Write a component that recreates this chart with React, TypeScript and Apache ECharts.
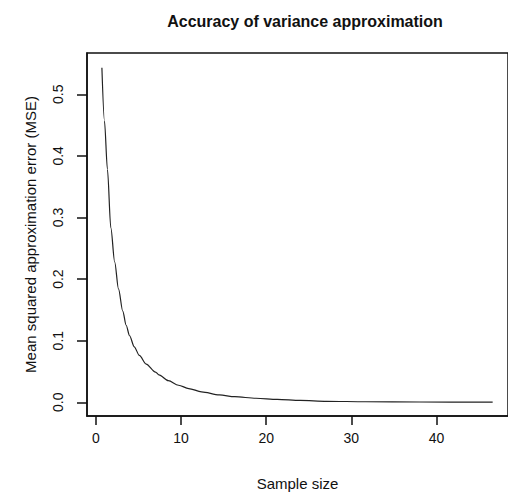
import React, { useEffect, useRef } from "react";
import * as echarts from "echarts";

const title = "Accuracy of variance approximation";
const xName = "Sample size";
const yName = "Mean squared approximation error (MSE)";
const xTicks = [0, 10, 20, 30, 40];
const yTicks = [0, 0.1, 0.2, 0.3, 0.4, 0.5];
const sampleSize = [0.7, 1.0, 1.35, 1.75, 2.2, 2.65, 3.15, 3.55, 3.95, 4.5, 5.1, 5.9, 7.0, 7.4, 8.5, 9.7, 10.9, 12.4, 14.5, 16.3, 18.8, 21.3, 24, 27.1, 31.7, 38, 46.6];
const mse = [0.543, 0.457, 0.378, 0.283, 0.228, 0.184, 0.148, 0.125, 0.108, 0.09, 0.076, 0.062, 0.049, 0.0445, 0.035, 0.0276, 0.0223, 0.017, 0.012, 0.009, 0.0065, 0.0048, 0.003, 0.0016, 0.0008, 0.0004, 0.0002];

const FONT = "Liberation Sans";

export default function App() {
  const ref = useRef<HTMLDivElement>(null);
  useEffect(() => {
    document.body.style.margin = "0";
    const chart = echarts.init(ref.current!, null, { renderer: "svg" });
    chart.setOption({
      animation: false,
      backgroundColor: "#ffffff",
      title: {
        text: title,
        left: 300,
        top: 8,
        textAlign: "center",
        textStyle: { fontFamily: FONT, fontWeight: "bold", fontSize: 16, color: "#111" },
      },
      grid: {
        left: 87,
        top: 53,
        width: 427,
        height: 370,
        show: true,
        borderColor: "#111",
        borderWidth: 1.5,
        containLabel: false,
      },
      xAxis: {
        type: "value",
        min: -1.05,
        max: 48.4,
        name: xName,
        nameLocation: "middle",
        nameGap: 60,
        nameTextStyle: { fontFamily: FONT, fontSize: 15, color: "#111" },
        splitLine: { show: false },
        axisLine: { show: true, onZero: false, lineStyle: { color: "#111", width: 1.5 } },
        axisTick: { show: true, length: 9, customValues: xTicks, lineStyle: { color: "#111", width: 1.5 } },
        axisLabel: { customValues: xTicks, margin: 15, fontFamily: FONT, fontSize: 14, color: "#111" },
      },
      yAxis: {
        type: "value",
        min: -0.0223,
        max: 0.567,
        name: yName,
        nameLocation: "middle",
        nameGap: 49,
        nameTextStyle: { fontFamily: FONT, fontSize: 15, color: "#111" },
        splitLine: { show: false },
        axisLine: { show: true, onZero: false, lineStyle: { color: "#111", width: 1.5 } },
        axisTick: { show: true, length: 10, customValues: yTicks, lineStyle: { color: "#111", width: 1.5 } },
        axisLabel: {
          customValues: yTicks,
          rotate: 90,
          margin: 29,
          align: "center",
          verticalAlign: "middle",
          fontFamily: FONT,
          fontSize: 14,
          color: "#111",
          formatter: (v: number) => v.toFixed(1),
        },
      },
      series: [
        {
          type: "line",
          data: sampleSize.map((x, i) => [x, mse[i]]),
          showSymbol: false,
          smooth: 0.3,
          smoothMonotone: "x",
          lineStyle: { color: "#222", width: 1.2 },
        },
      ],
    });
    return () => chart.dispose();
  }, []);
  return <div ref={ref} style={{ position: "absolute", left: 0, top: 0, width: 508, height: 496 }} />;
}
